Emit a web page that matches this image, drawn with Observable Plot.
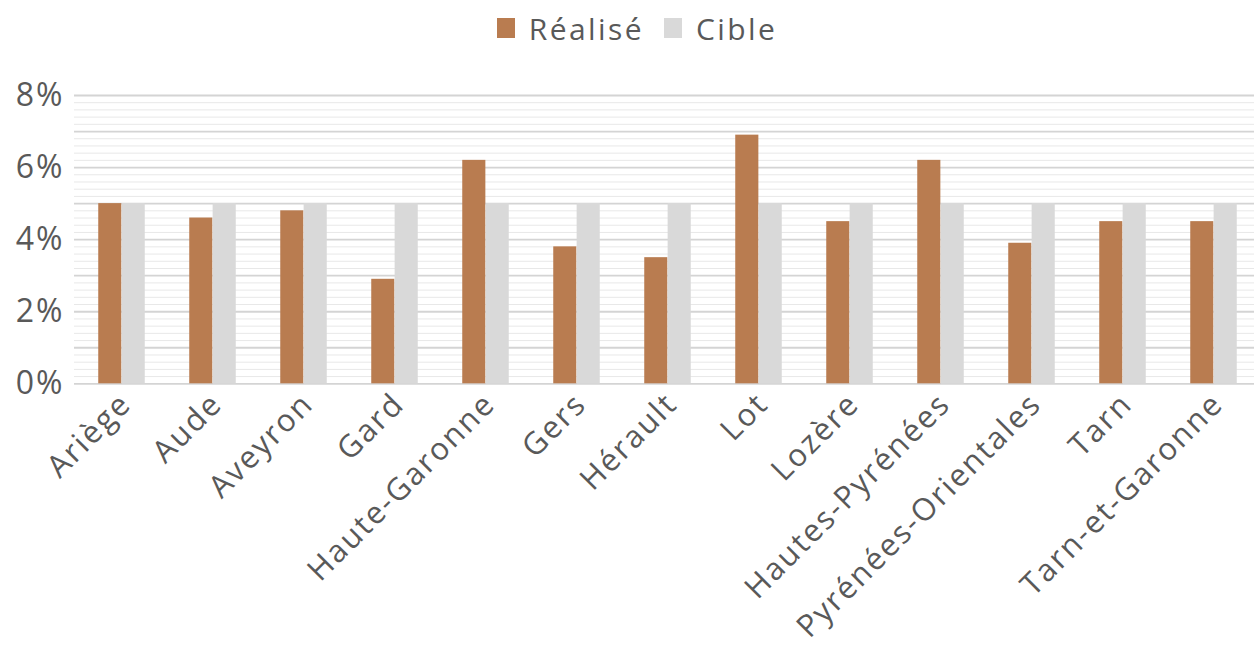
<!DOCTYPE html>
<html>
<head>
<meta charset="utf-8">
<script src="https://cdn.jsdelivr.net/npm/d3@7"></script>
<script src="https://cdn.jsdelivr.net/npm/@observablehq/plot@0.6"></script>
<style>
  body { margin: 0; background: #fff; font-family: "Open Sans", sans-serif; }
  #legend { height: 56px; display: flex; justify-content: center; align-items: center; gap: 20px; color: #595959; font-size: 30px; letter-spacing: 2.4px; padding-left: 20px; box-sizing: border-box; }
  .item { display: flex; align-items: center; gap: 14px; }
  .sw { width: 18px; height: 20px; display: inline-block; }
</style>
</head>
<body>
<div id="legend"></div>
<div id="chart"></div>
<script>
const departements = ["Ariège", "Aude", "Aveyron", "Gard", "Haute-Garonne", "Gers", "Hérault", "Lot", "Lozère", "Hautes-Pyrénées", "Pyrénées-Orientales", "Tarn", "Tarn-et-Garonne"];
const realise = [5.0, 4.6, 4.8, 2.9, 6.2, 3.8, 3.5, 6.9, 4.5, 6.2, 3.9, 4.5, 4.5];
const cible = [5.0, 5.0, 5.0, 5.0, 5.0, 5.0, 5.0, 5.0, 5.0, 5.0, 5.0, 5.0, 5.0];
const series = ["Réalisé", "Cible"];
const colors = ["#B97C50", "#D9D9D9"];
const yTicks = [0, 2, 4, 6, 8];
const majorGrid = [0, 1, 2, 3, 4, 5, 6, 7, 8];
const minorGrid = d3.range(0, 8.001, 0.2).filter(v => Math.abs(v - Math.round(v)) > 1e-6);

const table = departements.map((d, i) => ({dept: d, realise: realise[i], cible: cible[i]}));

// legend
const legend = document.getElementById("legend");
series.forEach((s, i) => {
  const it = document.createElement("div");
  it.className = "item";
  const sw = document.createElement("span");
  sw.className = "sw";
  sw.style.background = colors[i];
  const t = document.createElement("span");
  t.textContent = s;
  it.appendChild(sw); it.appendChild(t);
  legend.appendChild(it);
});

const W = 1254, H = 594;
const top0 = 56;
const xRange = [73.85, 1260.6];
const step = (xRange[1] - xRange[0]) / departements.length;
const bw = 23.4;

const chart = Plot.plot({
  width: W,
  height: H,
  marginLeft: 74,
  marginRight: 0,
  marginTop: 95 - top0,
  marginBottom: H - (383.3 - top0),
  style: {fontFamily: "Open Sans, sans-serif", color: "#595959", background: "#fff"},
  x: {type: "band", domain: departements, range: xRange, padding: 0},
  y: {domain: [0, 8], range: [383.3 - top0, 95 - top0]},
  marks: [
    Plot.ruleY(minorGrid, {stroke: "#e8e8e8", strokeWidth: 1}),
    Plot.ruleY(majorGrid, {stroke: "#d4d4d4", strokeWidth: 1.8}),
    Plot.barY(table, {x: "dept", y: "realise", fill: colors[0], insetLeft: step / 2 - bw, insetRight: step / 2}),
    Plot.barY(table, {x: "dept", y: "cible", fill: colors[1], insetLeft: step / 2, insetRight: step / 2 - bw}),
    Plot.axisY({ticks: yTicks, tickSize: 0, tickPadding: 10, fontSize: 32, tickFormat: d => d + "%", label: null, fill: "#595959"}),
    Plot.axisX({tickSize: 0, tickPadding: 15, tickRotate: -45, fontSize: 31, label: null, fill: "#595959", dx: 4})
  ]
});
chart.querySelectorAll("text").forEach(t => t.style.letterSpacing = "2px");
document.getElementById("chart").appendChild(chart);
</script>
</body>
</html>
